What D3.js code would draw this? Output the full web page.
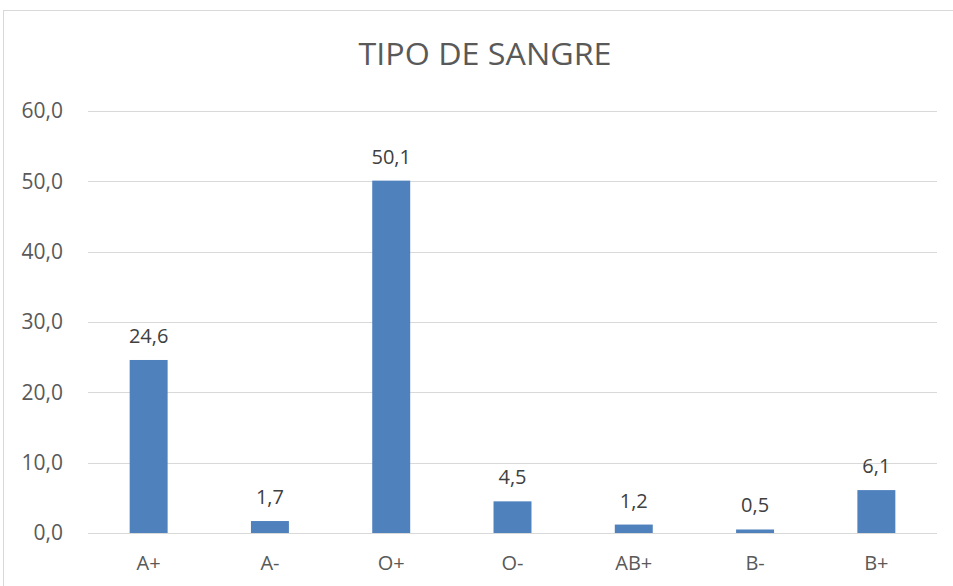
<!DOCTYPE html>
<html>
<head>
<meta charset="utf-8">
<script src="https://cdn.jsdelivr.net/npm/d3@7"></script>
<style>
  html, body { margin: 0; padding: 0; background: #fff; }
  svg { display: block; }
</style>
</head>
<body>
<svg id="chart" width="953" height="586"></svg>
<script>
// Blood type distribution (%)
const categories = ["A+", "A-", "O+", "O-", "AB+", "B-", "B+"];
const values = [24.6, 1.7, 50.1, 4.5, 1.2, 0.5, 6.1];
const yTicks = [0, 10, 20, 30, 40, 50, 60];
const chartTitle = "TIPO DE SANGRE";

const W = 953, H = 586;
const plot = { left: 88, right: 937, top: 111, bottom: 533 };
const textColor = "#595959";
const gridColor = "#d9d9d9";
const barColor = "#4f81bd";
const font = "'Open Sans', 'Liberation Sans', sans-serif";

// Spanish-style decimal comma
const locale = d3.formatLocale({ decimal: ",", thousands: ".", grouping: [3], currency: ["", "€"] });
const fmt = locale.format(".1f");

const svg = d3.select("#chart");

// Chart frame
svg.append("rect")
  .attr("x", 3.5).attr("y", 10.5)
  .attr("width", W + 10).attr("height", H + 10)
  .attr("fill", "#fff")
  .attr("stroke", gridColor).attr("stroke-width", 1);

// Title
svg.append("text")
  .attr("x", 485)
  .attr("y", 65)
  .attr("text-anchor", "middle")
  .attr("font-family", font)
  .attr("font-size", 31)
  .attr("fill", textColor)
  .attr("textLength", 253)
  .attr("lengthAdjust", "spacingAndGlyphs")
  .text(chartTitle);

const x = d3.scaleBand()
  .domain(categories)
  .range([plot.left, plot.right])
  .paddingInner(0.687)
  .paddingOuter(0.3435);

const y = d3.scaleLinear()
  .domain([0, 60])
  .range([plot.bottom, plot.top]);

// Horizontal gridlines
svg.append("g")
  .selectAll("line")
  .data(yTicks)
  .join("line")
  .attr("x1", plot.left).attr("x2", plot.right)
  .attr("y1", d => Math.round(y(d)) + 0.5)
  .attr("y2", d => Math.round(y(d)) + 0.5)
  .attr("stroke", gridColor)
  .attr("stroke-width", 1);

// Y axis labels
const yAxis = d3.axisLeft(y)
  .tickValues(yTicks)
  .tickFormat(fmt)
  .tickSize(0)
  .tickPadding(25);

const gy = svg.append("g")
  .attr("transform", `translate(${plot.left},0)`)
  .call(yAxis);
gy.select(".domain").remove();
gy.selectAll("text")
  .attr("font-family", font)
  .attr("font-size", 21)
  .attr("fill", textColor);

// X axis labels
const xAxis = d3.axisBottom(x).tickSize(0).tickPadding(23);
const gx = svg.append("g")
  .attr("transform", `translate(0,${plot.bottom})`)
  .call(xAxis);
gx.select(".domain").remove();
gx.selectAll("text")
  .attr("font-family", font)
  .attr("font-size", 20)
  .attr("fill", textColor);

const data = categories.map((c, i) => ({ cat: c, val: values[i] }));

// Bars
svg.append("g")
  .selectAll("rect")
  .data(data)
  .join("rect")
  .attr("x", d => x(d.cat))
  .attr("width", x.bandwidth())
  .attr("y", d => y(d.val))
  .attr("height", d => y(0) - y(d.val))
  .attr("fill", barColor);

// Value labels
svg.append("g")
  .selectAll("text")
  .data(data)
  .join("text")
  .attr("x", d => x(d.cat) + x.bandwidth() / 2)
  .attr("y", d => y(d.val) - 17)
  .attr("text-anchor", "middle")
  .attr("font-family", font)
  .attr("font-size", 20)
  .attr("fill", "#404040")
  .text(d => fmt(d.val));
</script>
</body>
</html>
